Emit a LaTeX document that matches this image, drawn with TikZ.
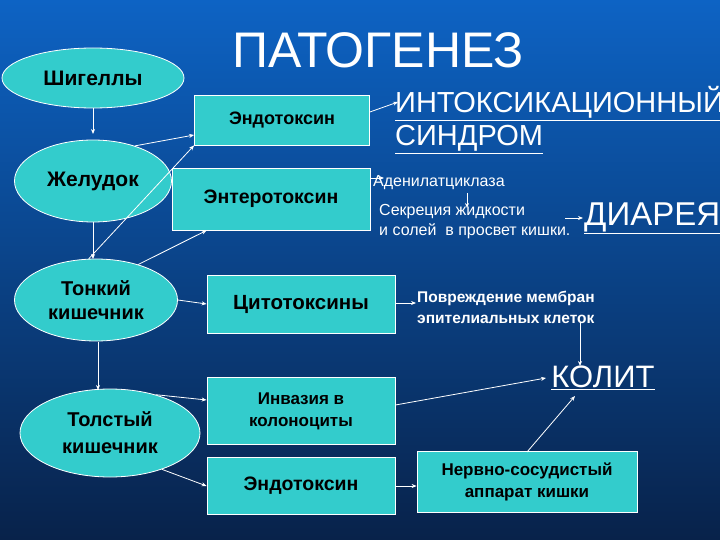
\documentclass[tikz,border=0pt]{standalone}
\usepackage{fontspec}
\setmainfont{Liberation Sans}
\usetikzlibrary{shapes.geometric,arrows.meta,calc}
\definecolor{teal1}{HTML}{33CCCC}
\definecolor{bgtop}{HTML}{0D63C4}
\definecolor{bgbot}{HTML}{08224A}
\tikzset{
  ell/.style={ellipse,draw=white,line width=0.8pt,fill=teal1,font=\bfseries\fontsize{21}{24}\selectfont,align=center,inner sep=0pt},
  box/.style={rectangle,draw=white,line width=0.8pt,fill=teal1,align=center,inner sep=0pt},
  wt/.style={text=white,align=center,inner sep=1pt},
  arr/.style={draw=white,line width=0.8pt,-{Stealth[length=5pt,width=4pt]}},
  big/.style={wt,font=\fontsize{33}{36}\selectfont}
}
\begin{document}
\begin{tikzpicture}[x=1pt,y=-1pt]
\shade[top color=bgtop,bottom color=bgbot] (0,0) rectangle (720,540);
\useasboundingbox (0,0) rectangle (720,540);
\node[wt,font=\fontsize{50}{54}\selectfont] (title) at (378,50) {ПАТОГЕНЕЗ};
\node[ell,minimum width=182,minimum height=60] (sh) at (93,78) {Шигеллы};
\node[ell,minimum width=157,minimum height=82] (zh) at (93,181) {Желудок};
\node[ell,minimum width=163,minimum height=82,font=\bfseries\fontsize{20}{24}\selectfont] (tk) at (96,300) {Тонкий\\кишечник};
\node[ell,minimum width=180,minimum height=88,font=\bfseries\fontsize{20}{27}\selectfont] (tl) at (110,433) {Толстый\\кишечник};
\node[box,minimum width=175,minimum height=50,font=\bfseries\fontsize{18}{21}\selectfont] (e1) at (282,120) {Эндотоксин};
\node[box,minimum width=198,minimum height=62,font=\bfseries\fontsize{19.5}{22}\selectfont] (en) at (271,199) {Энтеротоксин};
\node[box,minimum width=188,minimum height=58,font=\bfseries\fontsize{20.5}{24}\selectfont] (ct) at (301,304) {Цитотоксины};
\node[box,minimum width=188,minimum height=67,font=\bfseries\fontsize{17}{22}\selectfont] (inv) at (301,411) {Инвазия в\\колоноциты};
\node[box,minimum width=188,minimum height=57,font=\bfseries\fontsize{19.5}{22}\selectfont] (e2) at (301,486) {Эндотоксин};
\node[box,minimum width=220,minimum height=61,font=\bfseries\fontsize{17}{22}\selectfont] (nv) at (527,482) {Нервно-сосудистый\\аппарат кишки};
\node[big,anchor=west,align=left,font=\fontsize{29}{33}\selectfont] (int) at (394,120) {\underline{ИНТОКСИКАЦИОННЫЙ}\\\underline{СИНДРОМ}};
\node[wt,anchor=west,font=\fontsize{16}{19}\selectfont] (ad) at (372,183) {Аденилатциклаза};
\node[wt,anchor=west,font=\fontsize{16}{20}\selectfont,align=left] (sek) at (378,222) {Секреция жидкости\\ и солей \ в просвет кишки.};
\node[big,anchor=west] (dia) at (583,218) {\underline{ДИАРЕЯ}};
\node[wt,anchor=west,font=\bfseries\fontsize{15.5}{21}\selectfont,align=left] (pov) at (416,307) {Повреждение мембран\\эпителиальных клеток};
\node[big,font=\fontsize{31}{34}\selectfont] (kol) at (603,378) {\underline{КОЛИТ}};
\coordinate (adb) at (467,208);
\draw[arr] (sh.south) -- (sh.south|-0,134);
\draw[arr] (93,222) -- (93,259);
\draw[arr] (98,342) -- (98,390);
\draw[arr] (zh.40) -- (e1.south west|-0,135);
\draw[arr] (tk.100) -- (e1.south west);
\draw[arr] (tk.40) -- ($(en.south west)+(35,0)$);
\draw[arr] (tk.east) -- (ct.west|-0,304);
\draw[arr] (tl.40) -- (inv.west|-0,400);
\draw[arr] (tl.-35) -- (e2.west);
\draw[arr] (e1.east|-0,112) -- (398,102);
\draw[arr] (en.east|-0,178) -- (384,178);
\draw[arr] (467,193) -- (adb);
\draw[arr] (565,218) -- (dia.west);
\draw[arr] (ct.east|-0,303) -- (pov.west|-0,303);
\draw[arr] (580,322) -- (580,366);
\draw[arr] (inv.east|-0,405) -- (546,378);
\draw[arr] (nv.north|-0,452) -- (575,396);
\draw[arr] (e2.east) -- (nv.west|-0,486);
\end{tikzpicture}
\end{document}
